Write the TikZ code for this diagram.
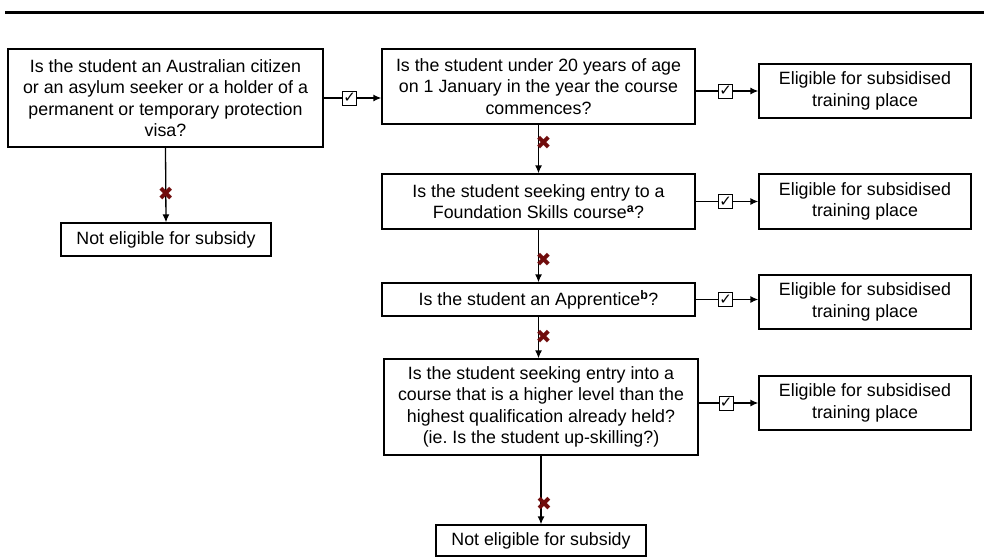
\documentclass[tikz,border=0pt]{standalone}
\usepackage{fontspec}
\setmainfont{Liberation Sans}
\newfontfamily\symfont{DejaVu Sans}
\usetikzlibrary{arrows.meta}
\definecolor{crossred}{RGB}{112,12,12}
\begin{document}
\frenchspacing
\begin{tikzpicture}[x=1pt,y=-1pt,
  box/.style={draw, line width=1.3pt, inner sep=0pt, align=center, font=\fontsize{17.8}{21.5}\selectfont},
  arr/.style={line width=1.3pt, -{Latex[length=8pt,width=7pt]}},
  chk/.style={draw, fill=white, line width=1pt, minimum size=14pt, inner sep=0pt, font=\symfont\fontsize{15}{15}\selectfont},
  crs/.style={text=crossred, inner sep=0pt, font=\symfont\fontsize{19}{19}\selectfont}]
\useasboundingbox (0,0) rectangle (984,557);
\fill[white] (0,0) rectangle (984,557);
\draw[line width=2.3pt] (5,12.5) -- (984,12.5);

\node[box, minimum width=315pt, minimum height=98pt] (A) at (165.5,98)
  {Is the student an Australian citizen\\or an asylum seeker or a holder of a\\permanent or temporary protection\\visa?};
\node[box, minimum width=210pt, minimum height=33pt] (NL) at (166,239.5) {Not eligible for subsidy};

\node[box, minimum width=313pt, minimum height=75pt] (B) at (538.5,86.5)
  {Is the student under 20 years of age\\on 1 January in the year the course\\commences?};
\node[box, minimum width=313pt, minimum height=55pt] (C) at (538.5,201.5)
  {Is the student seeking entry to a\\Foundation Skills course\textsuperscript{\bfseries a}?};
\node[box, minimum width=313pt, minimum height=33pt] (D) at (538.5,299.5)
  {Is the student an Apprentice\textsuperscript{\bfseries b}?};
\node[box, minimum width=314pt, minimum height=96pt] (Q) at (541,407)
  {Is the student seeking entry into a\\course that is a higher level than the\\highest qualification already held?\\(ie. Is the student up-skilling?)};
\node[box, minimum width=210pt, minimum height=31pt] (N) at (541,540.5) {Not eligible for subsidy};

\node[box, minimum width=212pt, minimum height=54pt] (E1) at (865,91) {Eligible for subsidised\\training place};
\node[box, minimum width=212pt, minimum height=55pt] (E2) at (865,201.5) {Eligible for subsidised\\training place};
\node[box, minimum width=212pt, minimum height=54pt] (E3) at (865,302) {Eligible for subsidised\\training place};
\node[box, minimum width=212pt, minimum height=54pt] (E4) at (865,403) {Eligible for subsidised\\training place};

\draw[arr] (A.east) -- node[chk, pos=0.45] {✓} (A.east -| B.west);
\draw[arr] (E1.west -| B.east) -- node[chk, pos=0.48] {✓} (E1.west);
\draw[arr] (C.east) -- node[chk, pos=0.48] {✓} (C.east -| E2.west);
\draw[arr] (D.east) -- node[chk, pos=0.48] {✓} (D.east -| E3.west);
\draw[arr] (E4.west -| Q.east) -- node[chk, pos=0.46] {✓} (E4.west);

\draw[arr] (A.south) -- node[crs, pos=0.62] {✖} (NL.north);
\draw[arr] (B.south) -- node[crs, pos=0.38, xshift=5pt] {✖} (C.north);
\draw[arr] (C.south) -- node[crs, pos=0.57, xshift=5pt] {✖} (D.north);
\draw[arr] (D.south) -- node[crs, pos=0.49, xshift=5pt] {✖} (D.south |- Q.north);
\draw[arr] (Q.south) -- node[crs, pos=0.7, xshift=3pt] {✖} (N.north);
\end{tikzpicture}
\end{document}
